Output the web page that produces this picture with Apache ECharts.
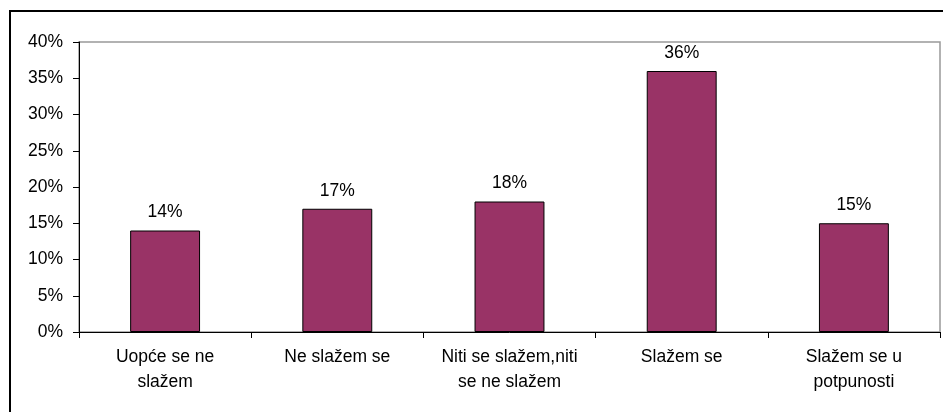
<!DOCTYPE html>
<html>
<head>
<meta charset="utf-8">
<script src="https://cdn.jsdelivr.net/npm/echarts@6/dist/echarts.min.js"></script>
<style>
html,body{margin:0;padding:0;background:#fff;}
#chart{width:943px;height:412px;}
</style>
</head>
<body>
<div id="chart"></div>
<script>
var categories = ['Uopće se ne\nslažem', 'Ne slažem se', 'Niti se slažem,niti\nse ne slažem', 'Slažem se', 'Slažem se u\npotpunosti'];
var values = [14, 17, 18, 36, 15];

var chart = echarts.init(document.getElementById('chart'));
var font = 'Liberation Sans, Arial, sans-serif';
var option = {
	animation: false,
	backgroundColor: '#fff',
	textStyle: { fontFamily: font },
	graphic: [{
		type: 'rect',
		shape: { x: 10, y: 11, width: 1000, height: 500 },
		style: { fill: 'none', stroke: '#000', lineWidth: 2 },
		silent: true
	}],
	grid: {
		left: 79, right: 3, top: 42, bottom: 80,
		show: true, borderColor: '#999', borderWidth: 1.5
	},
	xAxis: {
		type: 'category',
		data: categories,
		axisLine: { lineStyle: { color: '#000', width: 1 } },
		axisTick: { show: true, length: 6, lineStyle: { color: '#000' } },
		axisLabel: { color: '#000', fontSize: 17.5, lineHeight: 25, margin: 13, interval: 0, fontFamily: font }
	},
	yAxis: {
		type: 'value',
		min: 0, max: 40, interval: 5,
		axisLine: { show: true, lineStyle: { color: '#000', width: 1 } },
		axisTick: { show: true, length: 6, lineStyle: { color: '#000' } },
		splitLine: { show: false },
		axisLabel: { color: '#000', fontSize: 17.5, margin: 16, formatter: '{value}%', fontFamily: font }
	},
	series: [{
		type: 'bar',
		data: values,
		barWidth: '40.6%',
		itemStyle: { color: '#993366', borderColor: '#000', borderWidth: 1 },
		label: {
			show: true, position: 'top', distance: 9,
			color: '#000', fontSize: 17.5, fontFamily: font,
			formatter: '{c}%'
		}
	}]
};
chart.setOption(option);
</script>
</body>
</html>
